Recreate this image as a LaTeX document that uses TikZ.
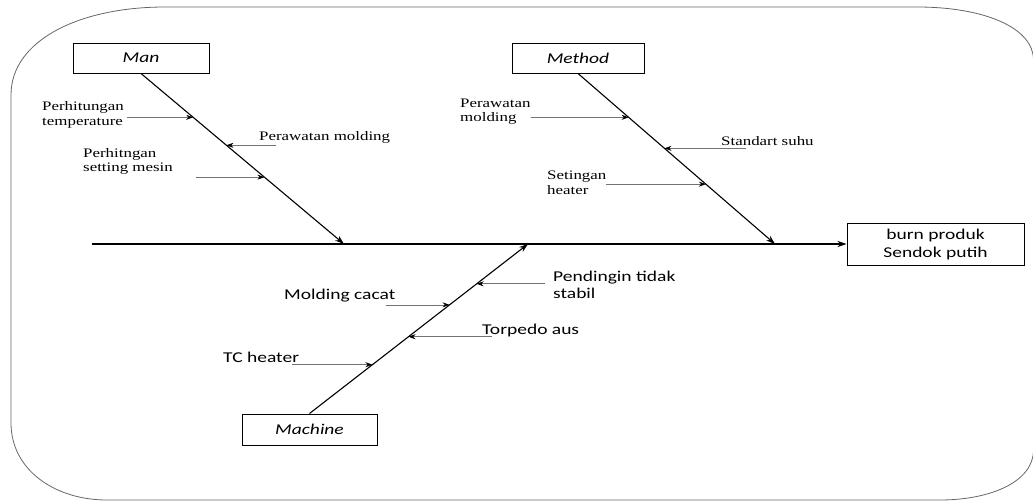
\documentclass[tikz,border=0pt]{standalone}
\usepackage{fontspec}
\setmainfont{Liberation Serif}[FakeStretch=1.3]
\newfontfamily\calibri{Carlito}[FakeStretch=1.3]
\usetikzlibrary{positioning, arrows.meta}

\begin{document}
\begin{tikzpicture}[x=1pt, y=-1pt, >={Stealth[length=9pt, width=6pt]},
    catbox/.style={draw, line width=1pt, minimum height=30pt, inner sep=0pt,
        font=\calibri\itshape\fontsize{15}{18}\selectfont},
    bone/.style={->, line width=1.1pt},
    sub/.style={-{Stealth[length=7pt, width=5pt, color=black]}, draw=black!55, line width=0.7pt},
    lbl/.style={anchor=west, align=left, inner sep=0pt, font=\fontsize{13}{14.5}\selectfont},
    slbl/.style={anchor=west, align=left, inner sep=0pt, font=\calibri\fontsize{15}{17}\selectfont}]

    \useasboundingbox (0,0) rectangle (1033,501);

    % Frame
    \draw[black!60, line width=0.8pt] (11,95) -- (11,423)
        .. controls (11,470) and (55,500) .. (107,500) -- (940,500)
        .. controls (990,500) and (1033.5,482) .. (1033.5,450) -- (1033.5,60)
        .. controls (1033.5,28) and (985,7) .. (917,7) -- (165,7)
        .. controls (80,7) and (11,40) .. (11,95) -- cycle;

    % Define nodes
    \node[catbox, minimum width=136pt] (man) at (141,58) {Man};
    \node[catbox, minimum width=132pt] (method) at (578,58) {Method};
    \node[catbox, minimum width=135pt, minimum height=31pt] (machine) at (309.5,429.5) {Machine};
    \node[draw, line width=1pt, minimum width=177pt, minimum height=42pt, align=center,
        font=\calibri\fontsize{15}{18}\selectfont] (effect) at (935.5,244) {burn produk\\Sendok putih};

    \coordinate (tail) at (92,244);
    \coordinate (j1) at (344,244);
    \coordinate (j2) at (528,244);
    \coordinate (j3) at (775,244);

    % Draw spine and bones
    \draw[bone] (tail) -- (effect.west);
    \draw[bone] (man.south) -- (j1);
    \draw[bone] (method.south) -- (j3);
    \draw[bone] (machine.north) -- (j2);

    % Points on the bones
    \path (man.south) -- (j1) coordinate[pos=0.257] (m1) coordinate[pos=0.421] (m2) coordinate[pos=0.608] (m3);
    \path (method.south) -- (j3) coordinate[pos=0.257] (d1) coordinate[pos=0.439] (d2) coordinate[pos=0.649] (d3);
    \path (machine.north) -- (j2) coordinate[pos=0.765] (c1) coordinate[pos=0.641] (c2) coordinate[pos=0.453] (c3) coordinate[pos=0.288] (c4);

    % Man
    \node[lbl] (mt1) at (42,115) {Perhitungan\\temperature};
    \node[lbl] (mt2) at (259,137) {Perawatan molding};
    \node[lbl] (mt3) at (83,161.5) {Perhitngan\\setting mesin};
    \coordinate (ma1) at ([xshift=-66]m1);
    \coordinate (ma2) at ([xshift=50]m2);
    \coordinate (ma3) at ([xshift=-68]m3);
    \draw[sub] (ma1) -- (m1);
    \draw[sub] (ma2) -- (m2);
    \draw[sub] (ma3) -- (m3);

    % Method
    \node[lbl] (dt1) at (460,111.5) {Perawatan\\molding};
    \node[lbl] (dt2) at (721,141) {Standart suhu};
    \node[lbl] (dt3) at (547,183) {Setingan\\heater};
    \coordinate (da1) at ([xshift=-98]d1);
    \coordinate (da2) at ([xshift=82]d2);
    \coordinate (da3) at ([xshift=-100]d3);
    \draw[sub] (da1) -- (d1);
    \draw[sub] (da2) -- (d2);
    \draw[sub] (da3) -- (d3);

    % Machine
    \node[slbl] (ct1) at (553,285) {Pendingin tidak\\stabil};
    \node[slbl] (ct2) at (284,296) {Molding cacat};
    \node[slbl] (ct3) at (482,330) {Torpedo aus};
    \node[slbl] (ct4) at (223,357) {TC heater};
    \coordinate (ca1) at ([xshift=68]c1);
    \coordinate (ca2) at ([xshift=-64]c2);
    \coordinate (ca3) at ([xshift=84]c3);
    \coordinate (ca4) at ([xshift=-80]c4);
    \draw[sub] (ca1) -- (c1);
    \draw[sub] (ca2) -- (c2);
    \draw[sub] (ca3) -- (c3);
    \draw[sub] (ca4) -- (c4);

\end{tikzpicture}
\end{document}
